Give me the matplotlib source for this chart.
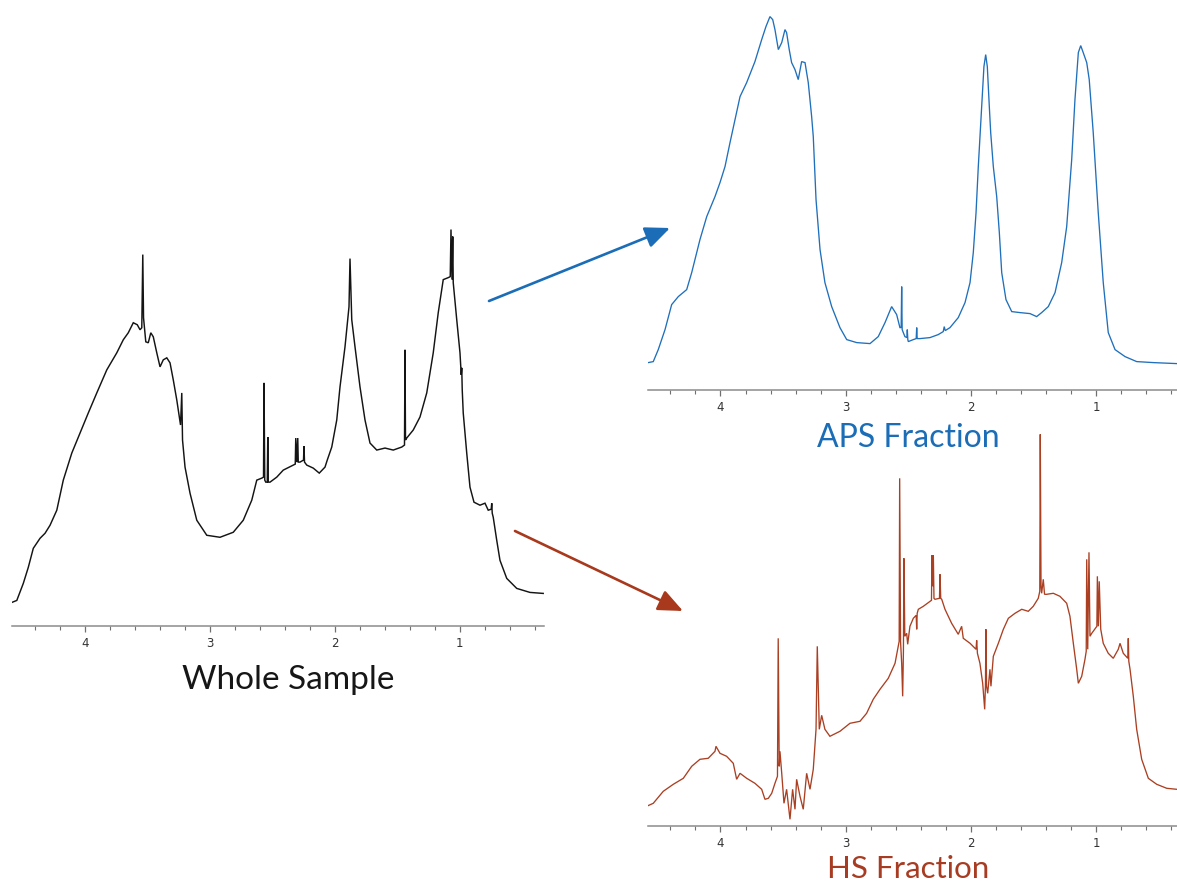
import matplotlib
matplotlib.use("Agg")
import matplotlib.pyplot as plt
from matplotlib.patches import FancyArrowPatch
from matplotlib.ticker import MultipleLocator

# chemical shift (ppm) / intensity (a.u.) traces of the three 1H NMR spectra
WHOLE_PPM = [4.583, 4.543, 4.491, 4.451, 4.411, 4.357, 4.317, 4.277, 4.223, 4.171,
             4.103, 4.037, 3.971, 3.903, 3.823, 3.743, 3.691, 3.651, 3.611, 3.579,
             3.557, 3.543, 3.535, 3.529, 3.511, 3.491, 3.471, 3.451, 3.423, 3.397,
             3.371, 3.343, 3.317, 3.291, 3.263, 3.233, 3.223, 3.217, 3.197, 3.157,
             3.103, 3.023, 2.917, 2.811, 2.731, 2.663, 2.623, 2.583, 2.569, 2.565,
             2.559, 2.551, 2.539, 2.535, 2.531, 2.517, 2.463, 2.411, 2.331, 2.315,
             2.311, 2.303, 2.295, 2.291, 2.277, 2.249, 2.245, 2.241, 2.223, 2.171,
             2.123, 2.077, 2.059, 2.023, 1.983, 1.957, 1.917, 1.885, 1.877, 1.863,
             1.837, 1.797, 1.757, 1.717, 1.663, 1.597, 1.531, 1.463, 1.441, 1.437,
             1.433, 1.423, 1.371, 1.317, 1.263, 1.211, 1.171, 1.131, 1.091, 1.075,
             1.069, 1.061, 1.055, 1.051, 1.023, 0.997, 0.987, 0.983, 0.979, 0.971,
             0.943, 0.917, 0.885, 0.837, 0.797, 0.771, 0.747, 0.743, 0.739, 0.731,
             0.703, 0.677, 0.623, 0.543, 0.437, 0.331]
WHOLE_INT = [23, 25, 42, 58, 77, 87, 92, 100, 115, 145,
             172, 192, 212, 232, 255, 272, 285, 292, 302, 300,
             295, 297, 370, 307, 283, 282, 292, 288, 272, 258,
             265, 267, 262, 245, 225, 200, 232, 185, 158, 132,
             105, 90, 88, 93, 105, 125, 145, 147, 148, 242,
             145, 143, 143, 188, 143, 143, 148, 155, 160, 161,
             187, 163, 187, 163, 163, 165, 179, 163, 160, 157,
             152, 158, 165, 178, 205, 238, 278, 318, 366, 305,
             278, 238, 205, 182, 175, 177, 175, 178, 180, 275,
             185, 187, 195, 208, 232, 272, 312, 345, 347, 348,
             395, 345, 388, 342, 305, 272, 250, 257, 235, 212,
             172, 138, 123, 120, 122, 115, 116, 122, 112, 108,
             85, 65, 47, 37, 33, 32]

APS_PPM = [4.577, 4.537, 4.497, 4.443, 4.390, 4.337, 4.270, 4.230, 4.164, 4.110,
           4.044, 4.004, 3.964, 3.924, 3.884, 3.844, 3.791, 3.725, 3.671, 3.637,
           3.605, 3.583, 3.565, 3.538, 3.511, 3.485, 3.472, 3.451, 3.432, 3.405,
           3.379, 3.352, 3.325, 3.299, 3.272, 3.259, 3.237, 3.205, 3.166, 3.112,
           3.046, 2.992, 2.912, 2.806, 2.740, 2.686, 2.633, 2.593, 2.567, 2.557,
           2.553, 2.549, 2.540, 2.527, 2.511, 2.508, 2.504, 2.500, 2.460, 2.437,
           2.433, 2.429, 2.407, 2.327, 2.261, 2.221, 2.213, 2.205, 2.167, 2.101,
           2.047, 2.007, 1.981, 1.959, 1.941, 1.914, 1.896, 1.882, 1.869, 1.853,
           1.842, 1.821, 1.794, 1.773, 1.754, 1.720, 1.674, 1.608, 1.528, 1.475,
           1.435, 1.382, 1.328, 1.275, 1.235, 1.195, 1.169, 1.142, 1.123, 1.103,
           1.075, 1.055, 1.023, 0.983, 0.943, 0.903, 0.849, 0.769, 0.676, 0.543,
           0.356]
APS_INT = [27, 28, 40, 60, 85, 93, 100, 117, 150, 173,
           193, 207, 223, 247, 270, 293, 307, 328, 350, 363,
           373, 370, 360, 340, 347, 360, 357, 340, 327, 320,
           310, 328, 327, 307, 273, 253, 190, 140, 107, 83,
           62, 50, 47, 46, 53, 67, 83, 75, 62, 62,
           103, 60, 57, 53, 52, 60, 50, 48, 50, 51,
           62, 51, 51, 52, 55, 58, 63, 59, 62, 72,
           87, 107, 137, 177, 223, 283, 323, 335, 323, 283,
           257, 223, 193, 157, 117, 90, 78, 77, 76, 73,
           77, 83, 97, 127, 163, 230, 290, 337, 344, 337,
           327, 310, 257, 177, 107, 57, 40, 33, 28, 27,
           26]

HS_PPM = [4.590, 4.537, 4.457, 4.377, 4.297, 4.230, 4.164, 4.098, 4.044, 4.036,
          4.004, 3.951, 3.898, 3.871, 3.844, 3.791, 3.725, 3.671, 3.645, 3.618,
          3.591, 3.565, 3.545, 3.539, 3.531, 3.525, 3.511, 3.493, 3.472, 3.445,
          3.424, 3.405, 3.392, 3.365, 3.339, 3.312, 3.285, 3.259, 3.237, 3.227,
          3.211, 3.192, 3.166, 3.126, 3.046, 2.966, 2.886, 2.833, 2.780, 2.726,
          2.660, 2.606, 2.580, 2.573, 2.569, 2.562, 2.553, 2.545, 2.539, 2.535,
          2.528, 2.513, 2.505, 2.487, 2.460, 2.437, 2.433, 2.429, 2.420, 2.380,
          2.327, 2.315, 2.311, 2.305, 2.300, 2.295, 2.287, 2.251, 2.247, 2.241,
          2.233, 2.207, 2.154, 2.101, 2.074, 2.061, 2.007, 1.959, 1.954, 1.948,
          1.928, 1.906, 1.890, 1.884, 1.880, 1.875, 1.866, 1.848, 1.840, 1.821,
          1.781, 1.741, 1.701, 1.648, 1.594, 1.542, 1.502, 1.462, 1.450, 1.446,
          1.440, 1.435, 1.422, 1.412, 1.395, 1.342, 1.289, 1.235, 1.209, 1.182,
          1.155, 1.142, 1.115, 1.089, 1.079, 1.075, 1.067, 1.057, 1.049, 1.035,
          0.994, 0.990, 0.982, 0.975, 0.963, 0.943, 0.903, 0.863, 0.823, 0.809,
          0.783, 0.747, 0.743, 0.739, 0.729, 0.703, 0.676, 0.636, 0.583, 0.516,
          0.436, 0.356]
HS_INT = [20, 23, 35, 42, 48, 60, 67, 68, 75, 80,
          73, 70, 63, 47, 53, 48, 43, 37, 27, 28,
          33, 43, 50, 188, 60, 75, 53, 23, 37, 7,
          37, 17, 47, 30, 17, 53, 37, 57, 97, 180,
          97, 111, 97, 90, 95, 103, 105, 113, 127, 137,
          148, 163, 180, 185, 348, 185, 163, 130, 175, 268,
          190, 193, 182, 200, 208, 211, 197, 213, 217, 220,
          225, 226, 271, 240, 271, 228, 227, 228, 252, 228,
          227, 217, 203, 192, 200, 188, 183, 177, 186, 173,
          163, 143, 117, 140, 197, 140, 133, 157, 140, 170,
          183, 197, 208, 213, 217, 215, 220, 228, 235, 392,
          240, 233, 247, 232, 232, 233, 230, 223, 210, 183,
          157, 143, 150, 167, 175, 267, 177, 274, 190, 193,
          200, 250, 200, 245, 197, 183, 173, 168, 177, 183,
          173, 168, 188, 165, 157, 130, 97, 67, 48, 42,
          38, 37]

TICK_LABELS = ["1", "2", "3", "4"]

BLACK = "#141414"
BLUE = "#1f6fbb"
RED = "#aa3f22"

W, H = 1177, 886
fig = plt.figure(figsize=(W / 100, H / 100), dpi=100)
fig.patch.set_facecolor("white")


def px_rect(x0, x1, y_top, y_axis):
    return [x0 / W, 1 - y_axis / H, (x1 - x0) / W, (y_axis - y_top) / H]


def spectrum_axes(rect, ppm, inten, color, xlim, ytop, lw):
    ax = fig.add_axes(rect)
    ax.plot(ppm, inten, color=color, lw=lw, solid_joinstyle="miter")
    ax.set_xlim(*xlim)
    ax.set_ylim(0, ytop)
    for s in ("left", "right", "top"):
        ax.spines[s].set_visible(False)
    ax.spines["bottom"].set_color("#8c8c8c")
    ax.spines["bottom"].set_linewidth(1.1)
    ax.xaxis.set_major_locator(MultipleLocator(1))
    ax.xaxis.set_minor_locator(MultipleLocator(0.2))
    ax.set_xticks([1, 2, 3, 4])
    ax.set_xticklabels(TICK_LABELS)
    ax.tick_params(axis="x", which="major", direction="out", length=4, width=0.9,
                   color="#707070", labelsize=8.5, labelcolor="#333333", pad=4)
    ax.tick_params(axis="x", which="minor", direction="out", length=3, width=0.8,
                   color="#707070")
    ax.set_yticks([])
    ax.patch.set_alpha(0)
    return ax


ax_w = spectrum_axes(px_rect(11.8, 543.6, 225, 625.5), WHOLE_PPM, WHOLE_INT,
                     BLACK, (4.583, 0.328), 399.5, 1.05)
ax_a = spectrum_axes(px_rect(647.5, 1177, 0, 389.6), APS_PPM, APS_INT,
                     BLUE, (4.583, 0.354), 389.6, 0.95)
ax_h = spectrum_axes(px_rect(647.5, 1177, 430, 826.3), HS_PPM, HS_INT,
                     RED, (4.583, 0.354), 396.3, 0.95)

# panel captions
fig.text(288 / W, 1 - 689 / H, "Whole Sample", ha="center", va="baseline",
         fontsize=24, family="Lato", color="#161616")
fig.text(908 / W, 1 - 447 / H, "APS Fraction", ha="center", va="baseline",
         fontsize=23, family="Lato", color="#1a6db6")
fig.text(908 / W, 1 - 878 / H, "HS Fraction", ha="center", va="baseline",
         fontsize=22.5, family="Lato", color="#a83c22")

# arrows from the whole sample to each fraction
for (x0, y0), (x1, y1), col in [((489, 301), (670, 228), "#1a6db6"),
                                ((515, 531), (683, 611), "#a8391c")]:
    arr = FancyArrowPatch((x0 / W, 1 - y0 / H), (x1 / W, 1 - y1 / H),
                          transform=fig.transFigure,
                          arrowstyle="-|>,head_length=1.5,head_width=0.65",
                          mutation_scale=10, lw=1.9, color=col,
                          shrinkA=0, shrinkB=0)
    fig.add_artist(arr)

fig.savefig("out.png", dpi=100, facecolor="white")
